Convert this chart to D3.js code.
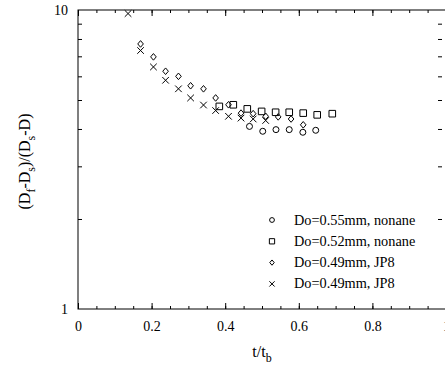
<!DOCTYPE html>
<html>
<head>
<meta charset="utf-8">
<script src="https://cdn.jsdelivr.net/npm/d3@7"></script>
<style>
  body { margin: 0; background: #fff; }
  svg { display: block; }
  svg text { font-family: "Liberation Serif", "Times New Roman", serif; fill: #000; }
  .axis path, .axis line { stroke: #000; stroke-width: 1; }
  .axis text { font-size: 14px; }
</style>
</head>
<body>
<svg id="chart" width="445" height="365"></svg>
<script>
// data: [t/tb, (Df-Ds)/(Ds-D)]
const circles055 = [[0.466, 4.08], [0.502, 3.93], [0.538, 3.98], [0.574, 3.98], [0.611, 3.90], [0.646, 3.96]];
const squares052 = [[0.384, 4.76], [0.422, 4.82], [0.460, 4.67], [0.499, 4.58], [0.537, 4.55],
  [0.574, 4.55], [0.612, 4.52], [0.650, 4.46], [0.691, 4.50]];
const diamonds049 = [[0.170, 7.70], [0.205, 6.97], [0.238, 6.24], [0.273, 6.00], [0.306, 5.58],
  [0.341, 5.45], [0.374, 5.08], [0.409, 4.82], [0.443, 4.52], [0.476, 4.50], [0.510, 4.41],
  [0.544, 4.39], [0.579, 4.32], [0.612, 4.13]];
const crosses049 = [[0.136, 9.73], [0.170, 7.32], [0.205, 6.45], [0.238, 5.82], [0.273, 5.45],
  [0.306, 5.08], [0.341, 4.81], [0.374, 4.61], [0.409, 4.41], [0.443, 4.35], [0.476, 4.32],
  [0.510, 4.27]];
const seriesNames = ["Do=0.55mm, nonane", "Do=0.52mm, nonane", "Do=0.49mm, JP8", "Do=0.49mm, JP8"];
const xTicks = [0, 0.2, 0.4, 0.6, 0.8, 1];
const xTickLabels = ["0", "0.2", "0.4", "0.6", "0.8", "1"];
const yTicks = [1, 10];

const svg = d3.select("#chart");
const mLeft = 78, mRight = 446, mTop = 10, mBottom = 309;

const x = d3.scaleLinear().domain([0, 1]).range([mLeft, mRight]);
const y = d3.scaleLog().domain([1, 10]).range([mBottom, mTop]);

// marker shapes
const shapes = {
  circle: s => d3.symbol(d3.symbolCircle, Math.PI * s * s)(),
  square: s => `M${-s},${-s}H${s}V${s}H${-s}Z`,
  diamond: s => `M0,${-s}L${s * 0.85},0L0,${s}L${-s * 0.85},0Z`,
  cross: s => `M${-s},${-s}L${s},${s}M${-s},${s}L${s},${-s}`
};
const series = [
  { data: circles055, shape: "circle", size: 3 },
  { data: squares052, shape: "square", size: 3.3 },
  { data: diamonds049, shape: "diamond", size: 3.3 },
  { data: crosses049, shape: "cross", size: 3.3 }
];

// axes: ticks point inward on all sides
const xMinor = d3.range(0, 1.0001, 0.05);
const yMinor = [2, 3, 4, 5, 6, 7, 8, 9];

svg.append("g").attr("class", "axis")
  .attr("transform", `translate(0,${mBottom})`)
  .call(d3.axisBottom(x).tickValues(xTicks).tickSize(-6).tickPadding(12)
    .tickFormat((d, i) => xTickLabels[i]));
svg.append("g").attr("class", "axis")
  .attr("transform", `translate(0,${mBottom})`)
  .call(d3.axisBottom(x).tickValues(xMinor).tickSize(-3).tickFormat(""));
svg.append("g").attr("class", "axis")
  .attr("transform", `translate(0,${mTop})`)
  .call(d3.axisTop(x).tickValues(xTicks).tickSize(-6).tickFormat(""));
svg.append("g").attr("class", "axis")
  .attr("transform", `translate(0,${mTop})`)
  .call(d3.axisTop(x).tickValues(xMinor).tickSize(-3).tickFormat(""));

svg.append("g").attr("class", "axis")
  .attr("transform", `translate(${mLeft},0)`)
  .call(d3.axisLeft(y).tickValues(yTicks).tickSize(0).tickPadding(10).tickFormat(d3.format("d")));
svg.append("g").attr("class", "axis")
  .attr("transform", `translate(${mLeft},0)`)
  .call(d3.axisLeft(y).tickValues(yMinor).tickSize(-4).tickFormat(""));
svg.append("g").attr("class", "axis")
  .attr("transform", `translate(${mRight - 4},0)`)
  .call(d3.axisRight(y).tickValues(yMinor).tickSize(-4).tickFormat(""));

svg.selectAll(".axis .domain").remove();
svg.append("rect")
  .attr("x", mLeft).attr("y", mTop)
  .attr("width", mRight - mLeft).attr("height", mBottom - mTop)
  .attr("fill", "none").attr("stroke", "#000").attr("stroke-width", 1);

// points
series.forEach(s => {
  svg.append("g").selectAll("path")
    .data(s.data)
    .join("path")
    .attr("transform", d => `translate(${x(d[0])},${y(d[1])})`)
    .attr("d", shapes[s.shape](s.size))
    .attr("fill", "none")
    .attr("stroke", "#000")
    .attr("stroke-width", 1);
});

// legend
const legend = svg.append("g").attr("transform", "translate(272,220)");
series.forEach((s, i) => {
  const row = legend.append("g").attr("transform", `translate(0,${i * 21.3})`);
  row.append("path")
    .attr("d", shapes[s.shape](s.size * 0.8))
    .attr("fill", "none").attr("stroke", "#000").attr("stroke-width", 1);
  row.append("text")
    .attr("x", 22).attr("y", 4.5)
    .attr("font-size", 14.3)
    .text(seriesNames[i]);
});

// axis titles
const xt = svg.append("text")
  .attr("x", (mLeft + mRight) / 2).attr("y", 357)
  .attr("text-anchor", "middle").attr("font-size", 16);
xt.append("tspan").text("t/t");
xt.append("tspan").attr("font-size", 12).attr("dy", 5).text("b");

const yt = svg.append("text")
  .attr("transform", `translate(30,${(mTop + mBottom) / 2 + 2}) rotate(-90)`)
  .attr("text-anchor", "middle").attr("font-size", 16);
[["(D", "f"], ["-D", "s"], [")/(D", "s"], ["-D)", null]].forEach(([t, sub], i) => {
  yt.append("tspan").attr("dy", i === 0 ? 0 : -5).text(t);
  if (sub) yt.append("tspan").attr("font-size", 12).attr("dy", 5).text(sub);
});
</script>
</body>
</html>
